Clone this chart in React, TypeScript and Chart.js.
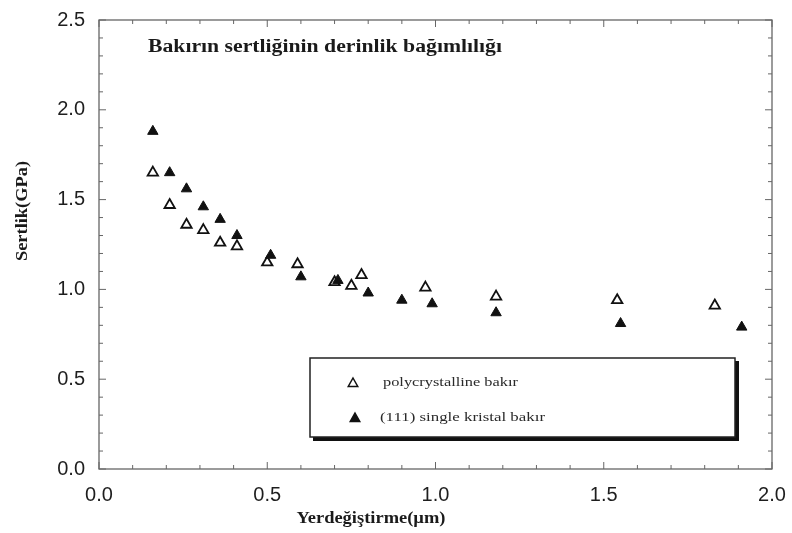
import React, { useEffect, useRef } from "react";
import { Chart, registerables } from "chart.js";

Chart.register(...registerables);

const chartTitle = "Bakırın sertliğinin derinlik bağımlılığı";
const xTitle = "Yerdeğiştirme(µm)";
const yTitle = "Sertlik(GPa)";
const polyLabel = "polycrystalline bakır";
const singleLabel = "(111) single kristal bakır";

const polyX = [0.16, 0.21, 0.26, 0.31, 0.36, 0.41, 0.50, 0.59, 0.70, 0.75, 0.78, 0.97, 1.18, 1.54, 1.83];
const polyY = [1.65, 1.47, 1.36, 1.33, 1.26, 1.24, 1.15, 1.14, 1.04, 1.02, 1.08, 1.01, 0.96, 0.94, 0.91];

const singleX = [0.16, 0.21, 0.26, 0.31, 0.36, 0.41, 0.51, 0.60, 0.71, 0.80, 0.90, 0.99, 1.18, 1.55, 1.91];
const singleY = [1.88, 1.65, 1.56, 1.46, 1.39, 1.30, 1.19, 1.07, 1.05, 0.98, 0.94, 0.92, 0.87, 0.81, 0.79];

const xTicks = [0, 0.5, 1.0, 1.5, 2.0];
const yTicks = [0, 0.5, 1.0, 1.5, 2.0, 2.5];

function tri(ctx: CanvasRenderingContext2D, x: number, y: number, r: number, filled: boolean) {
  ctx.save();
  ctx.beginPath();
  ctx.moveTo(x, y - r);
  ctx.lineTo(x + r * 0.95, y + r * 0.7);
  ctx.lineTo(x - r * 0.95, y + r * 0.7);
  ctx.closePath();
  ctx.lineWidth = 1.5;
  ctx.strokeStyle = "#111";
  ctx.fillStyle = filled ? "#111" : "#fff";
  ctx.fill();
  ctx.stroke();
  ctx.restore();
}

function fitText(
  ctx: CanvasRenderingContext2D,
  text: string,
  x: number,
  y: number,
  width: number,
  font: string,
  align: "left" | "center"
) {
  ctx.save();
  ctx.font = font;
  ctx.textBaseline = "middle";
  ctx.textAlign = "left";
  const w = ctx.measureText(text).width;
  const s = width / w;
  const startX = align === "center" ? x - width / 2 : x;
  ctx.translate(startX, y);
  ctx.scale(s, 1);
  ctx.fillText(text, 0, 0);
  ctx.restore();
}

const decorPlugin = {
  id: "decor",
  beforeDatasetsDraw(chart: any) {
    const ctx: CanvasRenderingContext2D = chart.ctx;
    const { left, right, top, bottom } = chart.chartArea;
    const xs = chart.scales.x;
    const ys = chart.scales.y;
    ctx.save();
    ctx.strokeStyle = "#666";
    ctx.lineWidth = 1.3;
    ctx.strokeRect(left, top, right - left, bottom - top);
    ctx.lineWidth = 1;
    for (let i = 0; i <= 20; i++) {
      const v = i / 10;
      const px = xs.getPixelForValue(v);
      const len = i % 5 === 0 ? 7 : 4;
      ctx.beginPath();
      ctx.moveTo(px, bottom);
      ctx.lineTo(px, bottom - len);
      ctx.moveTo(px, top);
      ctx.lineTo(px, top + len);
      ctx.stroke();
    }
    for (let i = 0; i <= 25; i++) {
      const v = i / 10;
      const py = ys.getPixelForValue(v);
      const len = i % 5 === 0 ? 7 : 4;
      ctx.beginPath();
      ctx.moveTo(left, py);
      ctx.lineTo(left + len, py);
      ctx.moveTo(right, py);
      ctx.lineTo(right - len, py);
      ctx.stroke();
    }
    ctx.fillStyle = "#1a1a1a";
    fitText(ctx, chartTitle, 148, 47, 354, "bold 18px 'Liberation Serif', serif", "left");
    fitText(ctx, xTitle, 371, 519, 149, "bold 16px 'Liberation Serif', serif", "center");
    ctx.save();
    ctx.translate(23, 211);
    ctx.rotate(-Math.PI / 2);
    fitText(ctx, yTitle, 0, 0, 100, "bold 16px 'Liberation Serif', serif", "center");
    ctx.restore();
    ctx.restore();
  },
  afterDatasetsDraw(chart: any) {
    const ctx: CanvasRenderingContext2D = chart.ctx;
    ctx.save();
    const bx = 310, by = 358, bw = 425, bh = 79;
    ctx.fillStyle = "#fff";
    ctx.fillRect(bx, by, bw, bh);
    ctx.fillStyle = "#111";
    ctx.fillRect(bx + bw, by + 3, 4, bh + 1);
    ctx.fillRect(bx + 3, by + bh, bw + 1, 4);
    ctx.strokeStyle = "#222";
    ctx.lineWidth = 1.5;
    ctx.strokeRect(bx, by, bw, bh);
    tri(ctx, 353, 383, 5, false);
    tri(ctx, 355, 418, 5, true);
    ctx.fillStyle = "#2a2a2a";
    fitText(ctx, polyLabel, 383, 383, 135, "13px 'Liberation Serif', serif", "left");
    fitText(ctx, singleLabel, 380, 418, 165, "13px 'Liberation Serif', serif", "left");
    ctx.restore();
  },
};

export default function App() {
  const ref = useRef<HTMLCanvasElement>(null);
  useEffect(() => {
    document.body.style.margin = "0";
    const canvas = ref.current!;
    const chart = new Chart(canvas, {
      type: "scatter",
      data: {
        datasets: [
          {
            label: singleLabel,
            data: singleX.map((x, i) => ({ x, y: singleY[i] })),
            pointStyle: "triangle",
            pointRadius: 6,
            backgroundColor: "#111",
            borderColor: "#111",
            borderWidth: 1,
          },
          {
            label: polyLabel,
            data: polyX.map((x, i) => ({ x, y: polyY[i] })),
            pointStyle: "triangle",
            pointRadius: 6,
            backgroundColor: "#fff",
            borderColor: "#111",
            borderWidth: 1.8,
          },
        ],
      },
      options: {
        responsive: false,
        animation: false,
        layout: { padding: { top: 20, right: 20, left: 0, bottom: 0 } },
        plugins: { legend: { display: false }, tooltip: { enabled: false }, title: { display: false } },
        scales: {
          x: {
            type: "linear",
            min: 0,
            max: 2,
            afterBuildTicks: (s: any) => {
              s.ticks = xTicks.map((v) => ({ value: v }));
            },
            afterFit: (s: any) => {
              s.height = 64;
              s.paddingLeft = 0;
              s.paddingRight = 0;
            },
            grid: { display: false, drawTicks: false },
            border: { display: false },
            ticks: {
              padding: 14,
              color: "#1e1e1e",
              font: { family: "'Liberation Sans', Arial, sans-serif", size: 20 },
              callback: (v: any) => Number(v).toFixed(1),
            },
          },
          y: {
            type: "linear",
            min: 0,
            max: 2.5,
            afterBuildTicks: (s: any) => {
              s.ticks = yTicks.map((v) => ({ value: v }));
            },
            afterFit: (s: any) => {
              s.width = 99;
              s.paddingTop = 0;
              s.paddingBottom = 0;
            },
            grid: { display: false, drawTicks: false },
            border: { display: false },
            ticks: {
              padding: 14,
              color: "#1e1e1e",
              font: { family: "'Liberation Sans', Arial, sans-serif", size: 20 },
              callback: (v: any) => Number(v).toFixed(1),
            },
          },
        },
      },
      plugins: [decorPlugin],
    } as any);
    return () => chart.destroy();
  }, []);
  return <canvas ref={ref} width={792} height={533} style={{ display: "block" }} />;
}
